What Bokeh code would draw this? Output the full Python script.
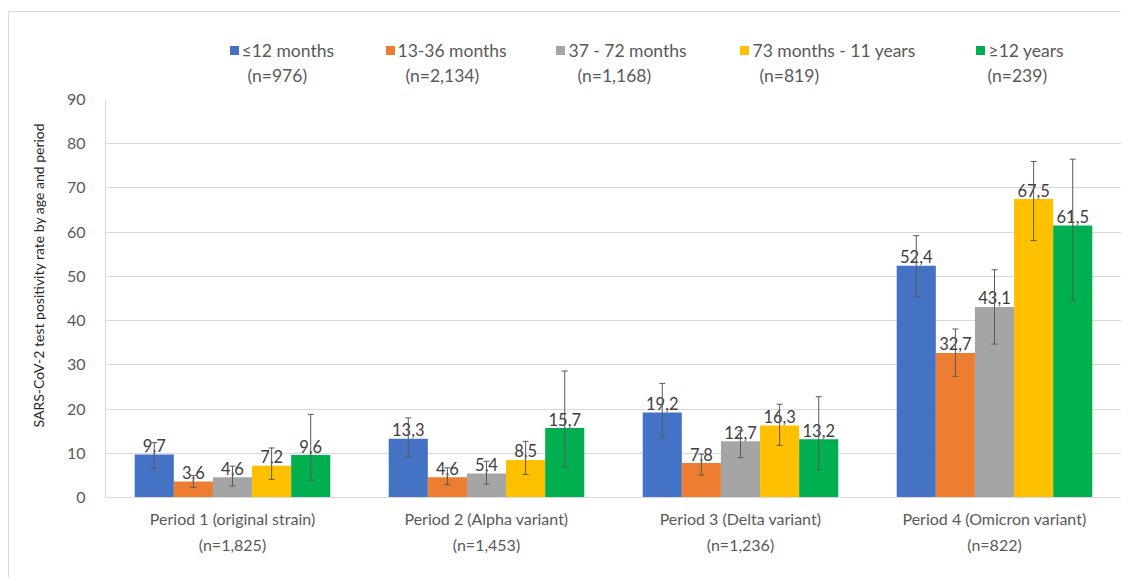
from bokeh.plotting import figure
from bokeh.models import (ColumnDataSource, Whisker, Title, Range1d, FactorRange, TeeHead,
                          CategoricalAxis)
from bokeh.transform import dodge
from bokeh.layouts import column
from bokeh.core.properties import value
from bokeh.embed import file_html
from bokeh.resources import INLINE

# ---------------- data ----------------
periods = ["Period 1 (original strain)", "Period 2 (Alpha variant)",
           "Period 3 (Delta variant)", "Period 4 (Omicron variant)"]
period_n = ["(n=1,825)", "(n=1,453)", "(n=1,236)", "(n=822)"]

groups = ["\u226412 months", "13-36 months", "37 - 72 months", "73 months - 11 years", "\u226512 years"]
group_n = ["(n=976)", "(n=2,134)", "(n=1,168)", "(n=819)", "(n=239)"]
colors = ["#4472C4", "#ED7D31", "#A5A5A5", "#FFC000", "#00B050"]

rate_12m = [9.7, 13.3, 19.2, 52.4]
rate_13_36m = [3.6, 4.6, 7.8, 32.7]
rate_37_72m = [4.6, 5.4, 12.7, 43.1]
rate_73m_11y = [7.2, 8.5, 16.3, 67.5]
rate_12y = [9.6, 15.7, 13.2, 61.5]

lo_12m = [6.6, 9.2, 13.4, 45.4]
hi_12m = [12.4, 18.0, 25.8, 59.2]
lo_13_36m = [2.3, 2.9, 5.1, 27.4]
hi_13_36m = [5.0, 6.7, 9.8, 38.1]
lo_37_72m = [2.6, 3.0, 9.0, 34.7]
hi_37_72m = [7.1, 8.2, 15.1, 51.5]
lo_73m_11y = [4.1, 5.2, 11.8, 58.1]
hi_73m_11y = [11.2, 12.7, 21.1, 76.0]
lo_12y = [3.9, 6.9, 6.3, 44.5]
hi_12y = [18.8, 28.6, 22.8, 76.5]

y_ticks = [0, 10, 20, 30, 40, 50, 60, 70, 80, 90]
y_title = "SARS-CoV-2 test positivity rate by age and period"

series = [(rate_12m, lo_12m, hi_12m), (rate_13_36m, lo_13_36m, hi_13_36m),
          (rate_37_72m, lo_37_72m, hi_37_72m), (rate_73m_11y, lo_73m_11y, hi_73m_11y),
          (rate_12y, lo_12y, hi_12y)]

FONT = "Lato"
TXT = "#595959"

# ---------------- layout constants ----------------
OX, OY = 9, 12    # page origin of content (margin + border)
W = 1121 - OX
FL = 105 - OX     # frame left inside figure
LEG_H = 90 - OY
MAIN_H = 487

# ---------------- main chart ----------------
p = figure(width=W, height=MAIN_H, x_range=FactorRange(*periods), y_range=Range1d(0, 90),
           output_backend="svg", toolbar_location=None,
           min_border_left=FL, min_border_right=0, min_border_top=9, min_border_bottom=80)
p.outline_line_color = None
p.xgrid.grid_line_color = None
p.ygrid.grid_line_color = "#D9D9D9"
p.ygrid.grid_line_width = 1

p.yaxis.ticker = y_ticks
p.yaxis.axis_line_color = "#D9D9D9"
p.yaxis.major_tick_line_color = None
p.yaxis.minor_tick_line_color = None
p.yaxis.major_label_text_font = FONT
p.yaxis.major_label_text_font_size = "16px"
p.yaxis.major_label_text_color = TXT
p.yaxis.major_label_standoff = 14

p.xaxis.axis_line_color = "#D9D9D9"
p.xaxis.major_tick_line_color = None
p.xaxis.minor_tick_line_color = None
p.xaxis.major_label_text_font = FONT
p.xaxis.major_label_text_font_size = "16px"
p.xaxis.major_label_text_color = TXT
p.xaxis.major_label_standoff = 5

p.extra_x_ranges = {"n": FactorRange(*period_n)}
ax2 = CategoricalAxis(x_range_name="n",
                      axis_line_color=None, major_tick_line_color=None,
                      minor_tick_line_color=None, major_label_standoff=-2,
                      major_label_text_font=FONT, major_label_text_font_size="16px",
                      major_label_text_color=TXT)
p.add_layout(ax2, "below")

bw = 0.154
for i, (vals, lo, hi) in enumerate(series):
    off = (i - 2) * bw
    src = ColumnDataSource(dict(period=periods, val=vals, lo=lo, hi=hi,
                                lbl=[f"{v:.1f}".replace(".", ",") for v in vals]))
    p.vbar(x=dodge("period", off, range=p.x_range), top="val", width=bw, bottom=0,
           source=src, fill_color=colors[i], line_color=None)
    p.text(x=dodge("period", off, range=p.x_range), y="val", text="lbl", source=src,
           text_align="center", text_baseline="alphabetic", y_offset=-9,
           text_font=value(FONT), text_font_size="16.5px", text_color="#404040")
    p.add_layout(Whisker(base=dodge("period", off, range=p.x_range), upper="hi", lower="lo",
                         source=src, line_color="#595959", line_width=1, level="annotation",
                         upper_head=TeeHead(size=6, line_color="#595959", line_width=1),
                         lower_head=TeeHead(size=6, line_color="#595959", line_width=1)))

p.add_layout(Title(text=y_title, align="left", offset=70, standoff=34,
                   text_font=FONT, text_font_size="14px", text_font_style="normal",
                   text_color="#262626"), "left")

# ---------------- legend strip ----------------
leg = figure(width=W, height=LEG_H, x_range=Range1d(105, 1121), y_range=Range1d(0, LEG_H),
             output_backend="svg", toolbar_location=None,
             min_border_left=FL, min_border_right=0, min_border_top=0, min_border_bottom=0)
leg.axis.visible = False
leg.grid.visible = False
leg.outline_line_color = None

sq_x = [234, 390, 560, 744, 980]
txt_x = [241, 397, 568, 752, 988]
n_x = [247, 405, 577, 759, 987]
leg.scatter(x=sq_x, y=[40] * 5, marker="square", size=9, fill_color=colors, line_color=None)
leg.text(x=txt_x, y=[40] * 5, text=groups, text_baseline="middle", text_align="left",
         text_font=value(FONT), text_font_size="17.5px", text_color=TXT)
leg.text(x=n_x, y=[15] * 5, text=group_n, text_baseline="middle", text_align="left",
         text_font=value(FONT), text_font_size="17.5px", text_color=TXT)

layout = column(leg, p, margin=(11, 0, 0, 8),
                styles={"border-top": "1px solid #D9D9D9", "border-left": "1px solid #D9D9D9"})
open("out.html", "w").write(file_html(layout, INLINE))
